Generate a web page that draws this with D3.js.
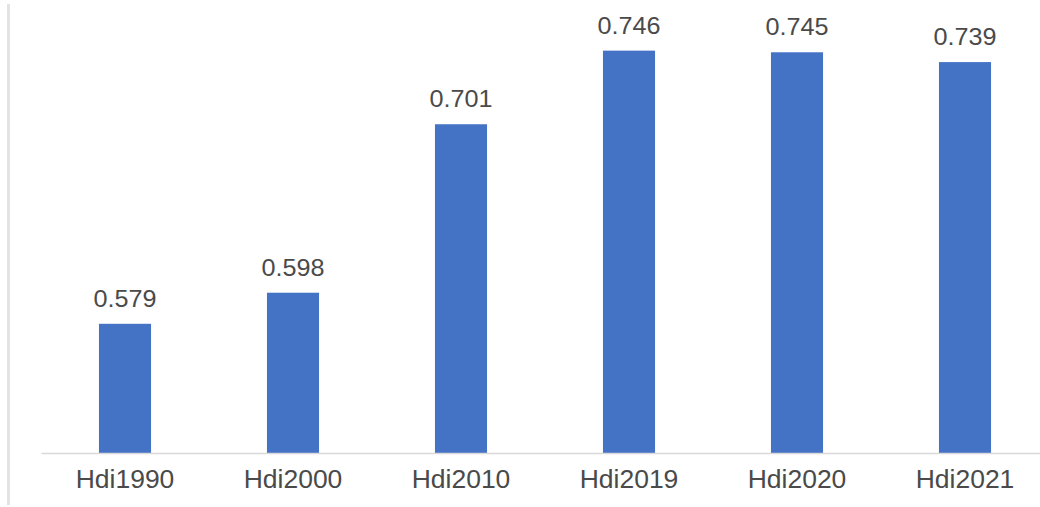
<!DOCTYPE html>
<html><head><meta charset="utf-8">
<script src="https://cdn.jsdelivr.net/npm/d3@7"></script>
<style>body{margin:0;background:#fff}svg{display:block}</style>
</head><body>
<svg id="c" width="1040" height="507"></svg>
<script>
const categories = ["Hdi1990","Hdi2000","Hdi2010","Hdi2019","Hdi2020","Hdi2021"];
const values = [0.579, 0.598, 0.701, 0.746, 0.745, 0.739];
const labels = ["0.579","0.598","0.701","0.746","0.745","0.739"];

const svg = d3.select("#c");
const x = d3.scaleBand().domain(categories).range([41, 1049]).padding(0);
const y = d3.scaleLinear().domain([0.5, 0.75]).range([453, 44.1]);
const barW = x.bandwidth() * 0.31;

// left frame line
svg.append("line").attr("x1",8.5).attr("x2",8.5).attr("y1",4).attr("y2",505)
  .attr("stroke","#e3e3e3").attr("stroke-width",3);

svg.selectAll("rect.bar").data(values).enter().append("rect")
  .attr("class","bar")
  .attr("x",(d,i)=>x(categories[i]) + x.bandwidth()/2 - barW/2)
  .attr("width",barW)
  .attr("y",d=>y(d))
  .attr("height",d=>y(0.5)-y(d))
  .attr("fill","#4472C4");

// baseline axis
const ax = svg.append("g").attr("transform",`translate(0,${y(0.5)})`)
  .call(d3.axisBottom(x).tickSize(0).tickFormat(""));
ax.select(".domain").attr("stroke","#d9d9d9").attr("stroke-width",1.5);

svg.selectAll("text.cat").data(categories).enter().append("text")
  .attr("class","cat")
  .attr("transform",d=>`translate(${x(d)+x.bandwidth()/2},488) scale(1.06,1)`)
  .attr("text-anchor","middle")
  .attr("font-family","Liberation Sans, Arial, sans-serif")
  .attr("font-size",25)
  .attr("fill","#4a4a4a")
  .text(d=>d);

svg.selectAll("text.val").data(values).enter().append("text")
  .attr("class","val")
  .attr("transform",(d,i)=>`translate(${x(categories[i])+x.bandwidth()/2},${y(d)-17}) scale(1.05,1)`)
  .attr("text-anchor","middle")
  .attr("font-family","Liberation Sans, Arial, sans-serif")
  .attr("font-size",24)
  .attr("fill","#4a4a4a")
  .text((d,i)=>labels[i]);
</script>
</body></html>
